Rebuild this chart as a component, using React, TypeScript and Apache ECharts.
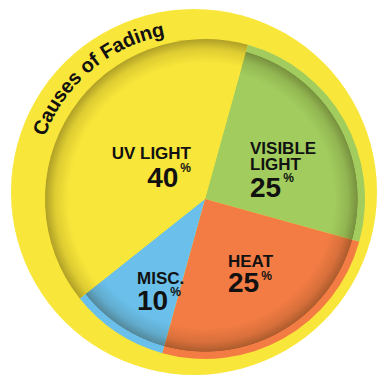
import React, { useEffect, useRef } from 'react';
import * as echarts from 'echarts';

// ---- data ----
const categories = ['VISIBLE\nLIGHT', 'HEAT', 'MISC.', 'UV LIGHT'];
const values = [25, 25, 10, 40];
const sliceColors = ['#a2cd5e', '#f37c44', '#6ac0eb', '#f9e63a'];
const titleText = 'Causes of Fading';

// ---- layout / style ----
const W = 379;
const H = 380;
const BG_YELLOW = '#f9e63a';
const PIE_CENTER: [number, number] = [205, 199];
const PIE_R = 160;
const RIM = 7;
const START_ANGLE = 74.5;
const OUTER = { cx: 194, cy: 192, r: 183 };
const TITLE_ARC = { cx: 194, cy: 192, r: 166, startDeg: -67.1, size: 20, spacing: 0.3 };
const FONT = '"Liberation Sans", Arial, Helvetica, sans-serif';
const LABEL_BOX = [
  { x: 250, y: 140, align: 'left', numLH: 30 },
  { x: 228, y: 253.5, align: 'left', numLH: 25 },
  { x: 137, y: 270, align: 'left', numLH: 28 },
  { x: 191, y: 145.5, align: 'right', numLH: 31 },
];

function shadeGradient(isYellow: boolean) {
  const [cx, cy] = PIE_CENTER;
  const edge = isYellow ? PIE_R : PIE_R - RIM;
  const f = (r: number) => Math.min(1, r / PIE_R);
  const stops = [
    { offset: 0, color: 'rgba(40,30,0,0)' },
    { offset: f(edge - 24), color: 'rgba(40,30,0,0)' },
    { offset: f(edge - 10), color: 'rgba(40,30,0,0.13)' },
    { offset: f(edge - 0.6), color: 'rgba(40,30,0,0.34)' },
  ];
  if (!isYellow) {
    stops.push({ offset: f(edge), color: 'rgba(40,30,0,0)' });
    stops.push({ offset: 1, color: 'rgba(40,30,0,0)' });
  } else {
    stops.push({ offset: 1, color: 'rgba(40,30,0,0.34)' });
  }
  return new echarts.graphic.RadialGradient(cx, cy, PIE_R, stops, true);
}

function titleElements() {
  const ctx = document.createElement('canvas').getContext('2d')!;
  ctx.font = `bold ${TITLE_ARC.size}px ${FONT}`;
  const chars = titleText.split('');
  const widths = chars.map((c) => ctx.measureText(c).width);
  let acc = 0;
  const centers = widths.map((w) => {
    const c = acc + w / 2;
    acc += w + TITLE_ARC.spacing;
    return c;
  });
  const s0 = centers[0];
  return chars.map((ch, i) => {
    const th = (TITLE_ARC.startDeg * Math.PI) / 180 + (centers[i] - s0) / TITLE_ARC.r;
    return {
      type: 'text',
      x: TITLE_ARC.cx + TITLE_ARC.r * Math.sin(th),
      y: TITLE_ARC.cy - TITLE_ARC.r * Math.cos(th),
      rotation: -th,
      z: 10,
      silent: true,
      style: {
        text: ch,
        fontSize: TITLE_ARC.size,
        fontWeight: 'bold',
        fontFamily: FONT,
        fill: '#111',
        align: 'center',
        verticalAlign: 'middle',
      },
    };
  });
}

export default function App() {
  const ref = useRef<HTMLDivElement>(null);
  useEffect(() => {
    if (!ref.current) return;
    const chart = echarts.init(ref.current, undefined, { renderer: 'svg' });
    const mainData = categories.map((name, i) => {
      const b = LABEL_BOX[i];
      const al = b.align;
      const label = name
        .split('\n')
        .map((l) => `{t|${l}}`)
        .join('\n');
      return {
        name,
        value: values[i],
        itemStyle: { color: sliceColors[i] },
        label: {
          formatter: `${label}\n{n|${values[i]}}{p|%}`,
          rich: {
            t: { fontSize: 17, fontWeight: 'bold', fontFamily: FONT, color: '#111', lineHeight: 16, align: al },
            n: { fontSize: 28, fontWeight: 'bold', fontFamily: FONT, color: '#111', lineHeight: b.numLH, align: al },
            p: {
              fontSize: 12,
              fontWeight: 'bold',
              fontFamily: FONT,
              color: '#111',
              lineHeight: b.numLH - 8,
              verticalAlign: 'top',
              padding: [0, 0, 0, 2],
              align: al,
            },
          },
        },
      };
    });
    const shadeData = categories.map((name, i) => ({
      name,
      value: values[i],
      itemStyle: { color: shadeGradient(i === 3) },
    }));
    chart.setOption({
      animation: false,
      backgroundColor: '#ffffff',
      graphic: [
        {
          type: 'circle',
          z: 0,
          silent: true,
          shape: { cx: OUTER.cx, cy: OUTER.cy, r: OUTER.r },
          style: { fill: BG_YELLOW },
        },
        ...titleElements(),
      ],
      series: [
        {
          type: 'pie',
          z: 2,
          center: PIE_CENTER,
          radius: [0, PIE_R],
          startAngle: START_ANGLE,
          clockwise: true,
          silent: true,
          emphasis: { disabled: true },
          itemStyle: { borderWidth: 0 },
          label: { show: true, position: 'inside' },
          labelLine: { show: false },
          labelLayout: (params: any) => {
            const b = LABEL_BOX[params.dataIndex];
            return { x: b.x, y: b.y, align: b.align, verticalAlign: 'top' };
          },
          data: mainData,
        },
        {
          type: 'pie',
          z: 3,
          center: PIE_CENTER,
          radius: [0, PIE_R],
          startAngle: START_ANGLE,
          clockwise: true,
          silent: true,
          emphasis: { disabled: true },
          itemStyle: { borderWidth: 0 },
          label: { show: false },
          labelLine: { show: false },
          data: shadeData,
        },
      ],
    });
    return () => chart.dispose();
  }, []);
  return (
    <div
      ref={ref}
      style={{ position: 'fixed', left: 0, top: 0, width: W, height: H, background: '#fff' }}
    />
  );
}
